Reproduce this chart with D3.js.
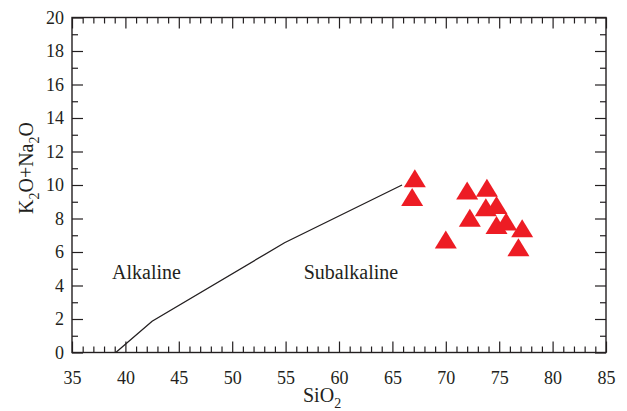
<!DOCTYPE html>
<html>
<head>
<meta charset="utf-8">
<script src="https://cdn.jsdelivr.net/npm/d3@7/dist/d3.min.js"></script>
<style>
  html, body { margin: 0; padding: 0; background: #fff; }
  svg { display: block; }
  text { font-family: "Liberation Serif", "Times New Roman", serif; fill: #231f20; }
</style>
</head>
<body>
<svg id="chart" width="627" height="411"></svg>
<script>
// ---- Data ----
const sio2 = [67.1, 66.85, 72.0, 73.85, 73.75, 74.75, 72.25, 74.75, 75.65, 77.15, 70.0, 76.8];
const alkali = [10.23, 9.1, 9.5, 9.65, 8.5, 8.63, 7.86, 7.44, 7.64, 7.24, 6.57, 6.11];
const boundarySio2 = [39.1, 42.5, 54.9, 65.9];
const boundaryAlkali = [0, 1.87, 6.55, 10.0];
const xTicks = [35, 40, 45, 50, 55, 60, 65, 70, 75, 80, 85];
const yTicks = [0, 2, 4, 6, 8, 10, 12, 14, 16, 18, 20];
const regionLabels = ["Alkaline", "Subalkaline"];
const regionX = [38.75, 56.7];
const regionY = [4.4, 4.4];

// ---- Layout ----
const L = 72, R = 606, T = 17.5, B = 352.5;
const svg = d3.select("#chart");
const x = d3.scaleLinear().domain([35, 85]).range([L, R]);
const y = d3.scaleLinear().domain([0, 20]).range([B, T]);

const xMinor = d3.range(35, 86, 1).filter(v => v % 5 !== 0);
const yMinor = d3.range(0, 21, 1).filter(v => v % 2 !== 0);

const axisColor = "#231f20";
function style(g) {
  g.select(".domain").remove();
  g.selectAll(".tick line").attr("stroke", axisColor).attr("stroke-width", 1.2);
}

// bottom
svg.append("g").attr("transform", `translate(0,${B})`)
  .call(d3.axisBottom(x).tickValues(xTicks).tickSize(-11).tickPadding(19).tickFormat(d3.format("d")))
  .call(style)
  .call(g => g.selectAll("text").attr("font-size", 18).attr("font-family", "Liberation Serif").attr("fill", axisColor));
svg.append("g").attr("transform", `translate(0,${B})`)
  .call(d3.axisBottom(x).tickValues(xMinor).tickSize(-6).tickFormat(""))
  .call(style);
// top
svg.append("g").attr("transform", `translate(0,${T})`)
  .call(d3.axisTop(x).tickValues(xTicks).tickSize(-11).tickFormat(""))
  .call(style);
svg.append("g").attr("transform", `translate(0,${T})`)
  .call(d3.axisTop(x).tickValues(xMinor).tickSize(-6).tickFormat(""))
  .call(style);
// left
svg.append("g").attr("transform", `translate(${L},0)`)
  .call(d3.axisLeft(y).tickValues(yTicks).tickSize(-11).tickPadding(8).tickFormat(d3.format("d")))
  .call(style)
  .call(g => g.selectAll("text").attr("font-size", 18).attr("font-family", "Liberation Serif").attr("fill", axisColor));
svg.append("g").attr("transform", `translate(${L},0)`)
  .call(d3.axisLeft(y).tickValues(yMinor).tickSize(-6).tickFormat(""))
  .call(style);
// right
svg.append("g").attr("transform", `translate(${R},0)`)
  .call(d3.axisRight(y).tickValues(yTicks).tickSize(-11).tickFormat(""))
  .call(style);
svg.append("g").attr("transform", `translate(${R},0)`)
  .call(d3.axisRight(y).tickValues(yMinor).tickSize(-6).tickFormat(""))
  .call(style);

// frame
svg.append("rect").attr("x", L).attr("y", T).attr("width", R - L).attr("height", B - T)
  .attr("fill", "none").attr("stroke", axisColor).attr("stroke-width", 1.4);

// boundary line
const lineData = boundarySio2.map((s, i) => [s, boundaryAlkali[i]]);
svg.append("path").datum(lineData)
  .attr("d", d3.line().x(d => x(d[0])).y(d => y(d[1])))
  .attr("fill", "none").attr("stroke", "#231f20").attr("stroke-width", 1.3);

// region labels
svg.selectAll(".region").data(regionLabels).join("text")
  .attr("x", (d, i) => x(regionX[i])).attr("y", (d, i) => y(regionY[i]))
  .attr("font-size", 20).text(d => d);

// triangles
const tri = "M0,-12L11,6L-11,6Z";
svg.selectAll(".pt").data(sio2).join("path")
  .attr("d", tri)
  .attr("transform", (d, i) => `translate(${x(d)},${y(alkali[i])})`)
  .attr("fill", "#ed1c24");

// axis titles
const xt = svg.append("text").attr("x", 303).attr("y", 402).attr("font-size", 20);
xt.append("tspan").text("SiO");
xt.append("tspan").attr("font-size", 14).attr("dy", 6).text("2");

const yt = svg.append("text").attr("transform", "translate(33,214) rotate(-90)").attr("font-size", 20);
yt.append("tspan").text("K");
yt.append("tspan").attr("font-size", 14).attr("dy", 6).text("2");
yt.append("tspan").attr("dy", -6).text("O+Na");
yt.append("tspan").attr("font-size", 14).attr("dy", 6).text("2");
yt.append("tspan").attr("dy", -6).text("O");
</script>
</body>
</html>
